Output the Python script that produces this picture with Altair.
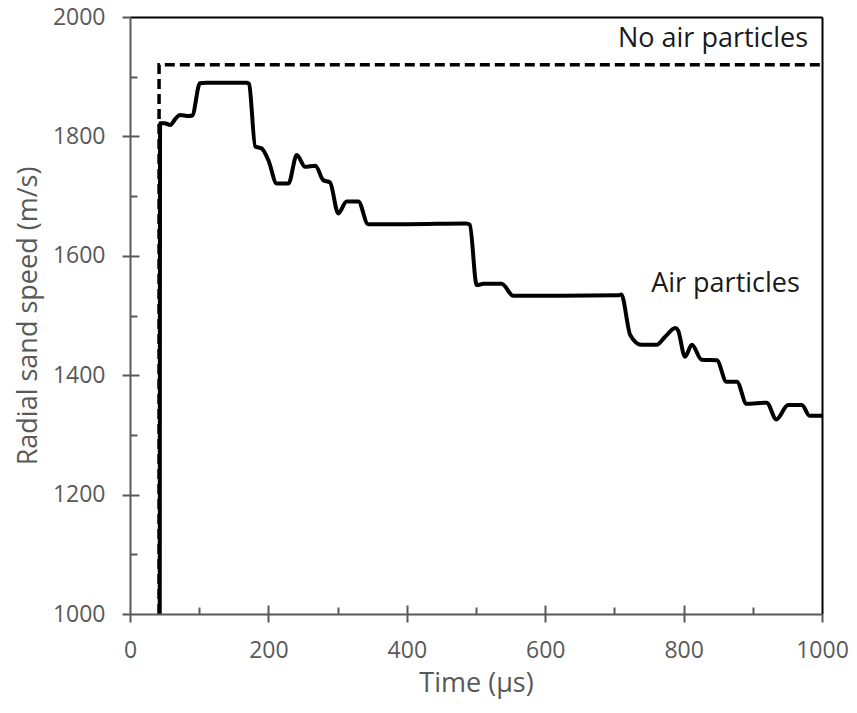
import altair as alt
import pandas as pd

# ---- data ----
air_t = [43, 43.5, 50, 58, 66, 72, 85, 90, 101, 110, 169, 172, 181, 190, 200, 212, 229, 241, 253,
         268, 279, 289, 301, 313, 330, 344, 363, 400, 486, 491, 501, 511, 537, 554, 600, 706, 710,
         723, 739, 761, 773, 788, 792, 802, 812, 826, 848, 862, 877, 891, 920, 934, 951, 971, 982, 1000]
air_v = [1000, 1822, 1822, 1819, 1830, 1836, 1834, 1835, 1889, 1890, 1890, 1888, 1783, 1780, 1760,
         1721, 1721, 1769, 1749, 1751, 1727, 1723, 1671, 1691, 1691, 1653, 1653, 1653, 1654, 1652,
         1551, 1553, 1553, 1533, 1533, 1534, 1535, 1467, 1451, 1451, 1464, 1479, 1475, 1431, 1451,
         1426, 1425, 1389, 1389, 1352, 1354, 1326, 1350, 1350, 1332, 1332]

noair_t = [42, 42, 1000]
noair_v = [1000, 1920, 1920]

label_text = ["No air particles", "Air particles"]
label_t = [980, 968]
label_v = [1950, 1539]

x_major = [0, 200, 400, 600, 800, 1000]
x_inner = [100, 200, 300, 400, 500, 600, 700, 800, 900]
y_major = [1000, 1200, 1400, 1600, 1800, 2000]
y_inner = [1100, 1200, 1300, 1400, 1500, 1600, 1700, 1800, 1900]

FONT = "Open Sans"
GRAY = "#595959"
W, H = 692, 597

air = pd.DataFrame({"t": air_t, "v": air_v, "o": list(range(len(air_t)))})
noair = pd.DataFrame({"t": noair_t, "v": noair_v, "o": list(range(len(noair_t)))})
labels = pd.DataFrame({"text": label_text, "t": label_t, "v": label_v})

xscale = alt.Scale(domain=[0, 1000], nice=False, zero=False)
yscale = alt.Scale(domain=[1000, 2000], nice=False, zero=False)

x_bottom = alt.Axis(values=x_major, format="d", title="Time (µs)", grid=False, tickSize=8, tickWidth=2,
                    tickColor=GRAY, domainColor=GRAY, domainWidth=2, labelFont=FONT,
                    labelFontSize=23, labelColor=GRAY, labelBaseline="alphabetic",
                    labelPadding=35, labelFlush=False, labelOverlap=False,
                    titleFont=FONT, titleFontSize=27, titleFontWeight="normal", titleColor=GRAY,
                    titleY=77, titleBaseline="alphabetic", zindex=2)
y_left = alt.Axis(values=y_major, format="d", title="Radial sand speed (m/s)", grid=False, tickSize=8,
                  tickWidth=2, tickColor=GRAY, domainColor=GRAY, domainWidth=2, labelFont=FONT,
                  labelFontSize=23, labelColor=GRAY, labelPadding=17, labelFlush=False,
                  labelOverlap=False, titleFont=FONT, titleFontSize=27, titleFontWeight="normal",
                  titleColor=GRAY, titleX=-102, titleY=H / 2, titleBaseline="middle", zindex=2)
x_in = alt.Axis(values=x_inner, orient="top", offset=-H, title=None, grid=False, labels=False,
                domain=False, tickWidth=2, tickColor=GRAY,
                tickSize={"condition": {"test": "datum.value % 200 === 0", "value": 9}, "value": 7},
                zindex=1)
y_in = alt.Axis(values=y_inner, orient="right", offset=-W, title=None, grid=False, labels=False,
                domain=False, tickWidth=2, tickColor=GRAY,
                tickSize={"condition": {"test": "datum.value % 200 === 0", "value": 9}, "value": 7},
                zindex=1)
x_top = alt.Axis(orient="top", title=None, grid=False, labels=False, ticks=False,
                 domainColor="black", domainWidth=2, zindex=1)
y_right = alt.Axis(orient="right", title=None, grid=False, labels=False, ticks=False,
                   domainColor="black", domainWidth=2, zindex=1)

solid = alt.Chart(air).mark_line(color="black", strokeWidth=4, interpolate="monotone").encode(
    x=alt.X("t:Q", scale=xscale, axis=x_bottom),
    y=alt.Y("v:Q", scale=yscale, axis=y_left),
    order="o:Q",
)
dashed = alt.Chart(noair).mark_line(color="black", strokeWidth=3.5, strokeDash=[10, 5]).encode(
    x=alt.X("t:Q", scale=xscale, axis=x_in),
    y=alt.Y("v:Q", scale=yscale, axis=y_in),
    order="o:Q",
)
text = alt.Chart(labels).mark_text(font=FONT, fontSize=27, color="#1a1a1a", align="right",
                                   baseline="alphabetic").encode(
    x=alt.X("t:Q", scale=xscale, axis=x_top),
    y=alt.Y("v:Q", scale=yscale, axis=y_right),
    text="text:N",
)

chart = alt.layer(dashed, solid, text).resolve_axis(x="independent", y="independent").properties(
    width=W, height=H,
    autosize=alt.AutoSizeParams(type="none"),
    padding={"left": 130, "top": 17, "right": 35, "bottom": 99},
).configure_view(strokeWidth=0).configure(background="white")

chart.save("out.html", embed_options={"renderer": "svg", "actions": False})
